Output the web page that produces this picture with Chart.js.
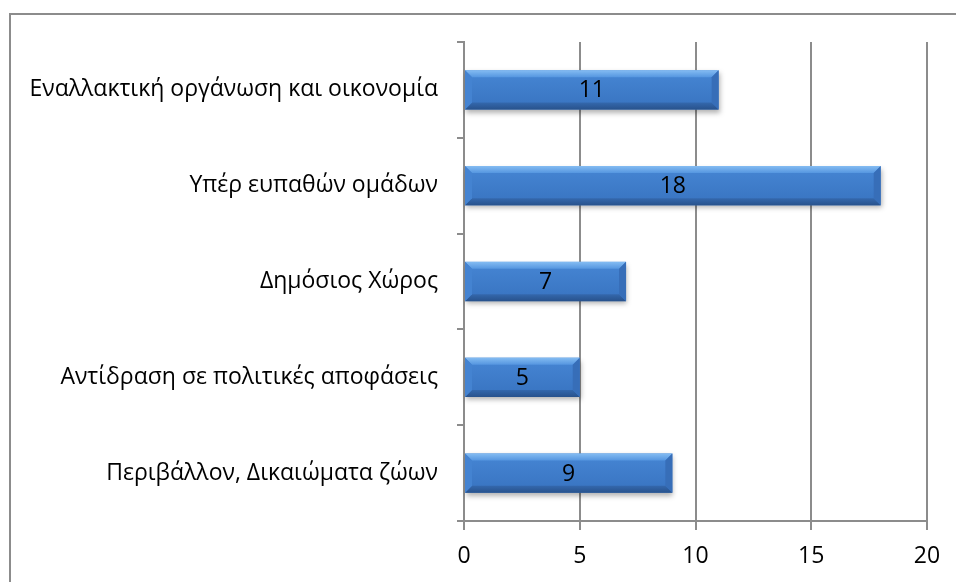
<!DOCTYPE html>
<html>
<head>
<meta charset="utf-8">
<script src="https://cdn.jsdelivr.net/npm/chart.js@4"></script>
<style>
  html, body { margin: 0; padding: 0; background: #fff; overflow: hidden; }
  #frame { position: absolute; left: 9px; top: 13px; width: 960px; height: 590px; border: 2px solid #8c8c8c; box-sizing: border-box; }
  #wrap { position: absolute; left: 0; top: 0; width: 956px; height: 582px; }
</style>
</head>
<body>
<div id="frame"></div>
<div id="wrap"><canvas id="chart"></canvas></div>
<script>
// categories, top to bottom as shown
const categories = [
    'Εναλλακτική οργάνωση και οικονομία',
    'Υπέρ ευπαθών ομάδων',
    'Δημόσιος Χώρος',
    'Αντίδραση σε πολιτικές αποφάσεις',
    'Περιβάλλον, Δικαιώματα ζώων'
];
const counts = [11, 18, 7, 5, 9];
const xTicks = [0, 5, 10, 15, 20];

const FONT = '"Open Sans", "Noto Sans", sans-serif';

// bevelled bars + value labels, drawn from the bar elements
const bevelBars = {
    id: 'bevelBars',
    afterDatasetsDraw(chart) {
        const ctx = chart.ctx;
        const meta = chart.getDatasetMeta(0);
        meta.data.forEach((bar, i) => {
            const left = Math.min(bar.base, bar.x), right = Math.max(bar.base, bar.x);
            const top = bar.y - bar.height / 2, bottom = bar.y + bar.height / 2;
            const b = Math.min(7, bar.height / 5);
            ctx.save();
            // soft drop shadow
            ctx.shadowColor = 'rgba(0,0,0,0.3)';
            ctx.shadowBlur = 5;
            ctx.shadowOffsetX = 1;
            ctx.shadowOffsetY = 3;
            const face = ctx.createLinearGradient(0, top, 0, bottom);
            face.addColorStop(0, '#4686d4');
            face.addColorStop(1, '#3873c0');
            ctx.fillStyle = face;
            ctx.fillRect(left, top, right - left, bottom - top);
            ctx.restore();

            const poly = (pts, fill) => {
                ctx.beginPath();
                ctx.moveTo(pts[0][0], pts[0][1]);
                pts.slice(1).forEach(p => ctx.lineTo(p[0], p[1]));
                ctx.closePath();
                ctx.fillStyle = fill;
                ctx.fill();
            };
            ctx.save();
            const topG = ctx.createLinearGradient(0, top, 0, top + b);
            topG.addColorStop(0, '#84bcf2');
            topG.addColorStop(1, '#5596e0');
            poly([[left, top], [right, top], [right - b, top + b], [left + b, top + b]], topG);
            const botG = ctx.createLinearGradient(0, bottom - b, 0, bottom);
            botG.addColorStop(0, '#3468ad');
            botG.addColorStop(1, '#28528c');
            poly([[left, bottom], [right, bottom], [right - b, bottom - b], [left + b, bottom - b]], botG);
            poly([[left, top], [left + b, top + b], [left + b, bottom - b], [left, bottom]], '#4483d1');
            poly([[right, top], [right - b, top + b], [right - b, bottom - b], [right, bottom]], '#376eb8');

            ctx.fillStyle = '#000';
            ctx.font = '23px ' + FONT;
            ctx.textAlign = 'center';
            ctx.textBaseline = 'middle';
            ctx.fillText(String(counts[i]), (left + right) / 2, bar.y + 1);
            ctx.restore();
        });
    }
};

new Chart(document.getElementById('chart'), {
    type: 'bar',
    data: {
        labels: categories,
        datasets: [{
            data: counts,
            backgroundColor: 'rgba(0,0,0,0)',
            borderWidth: 0,
            barPercentage: 0.41,
            categoryPercentage: 1
        }]
    },
    options: {
        indexAxis: 'y',
        responsive: true,
        maintainAspectRatio: false,
        animation: false,
        layout: { padding: { top: 42, right: 29, left: 0, bottom: 0 } },
        plugins: { legend: { display: false }, tooltip: { enabled: false } },
        scales: {
            x: {
                min: 0,
                max: 20,
                afterBuildTicks: s => { s.ticks = xTicks.map(v => ({ value: v })); },
                grid: { color: '#8c8c8c', lineWidth: 2, tickLength: 9, drawTicks: true },
                border: { color: '#8c8c8c', width: 2 },
                ticks: { color: '#000', font: { family: FONT, size: 23 }, padding: 13 },
                afterFit: s => { s.height = 61; }
            },
            y: {
                offset: true,
                grid: { offset: true, drawOnChartArea: false, color: '#8c8c8c', lineWidth: 2, tickLength: 7 },
                border: { color: '#8c8c8c', width: 2 },
                ticks: { color: '#000', font: { family: FONT, size: 23 }, padding: 19 },
                afterFit: s => { s.width = 464; }
            }
        }
    },
    plugins: [bevelBars]
});
</script>
</body>
</html>
